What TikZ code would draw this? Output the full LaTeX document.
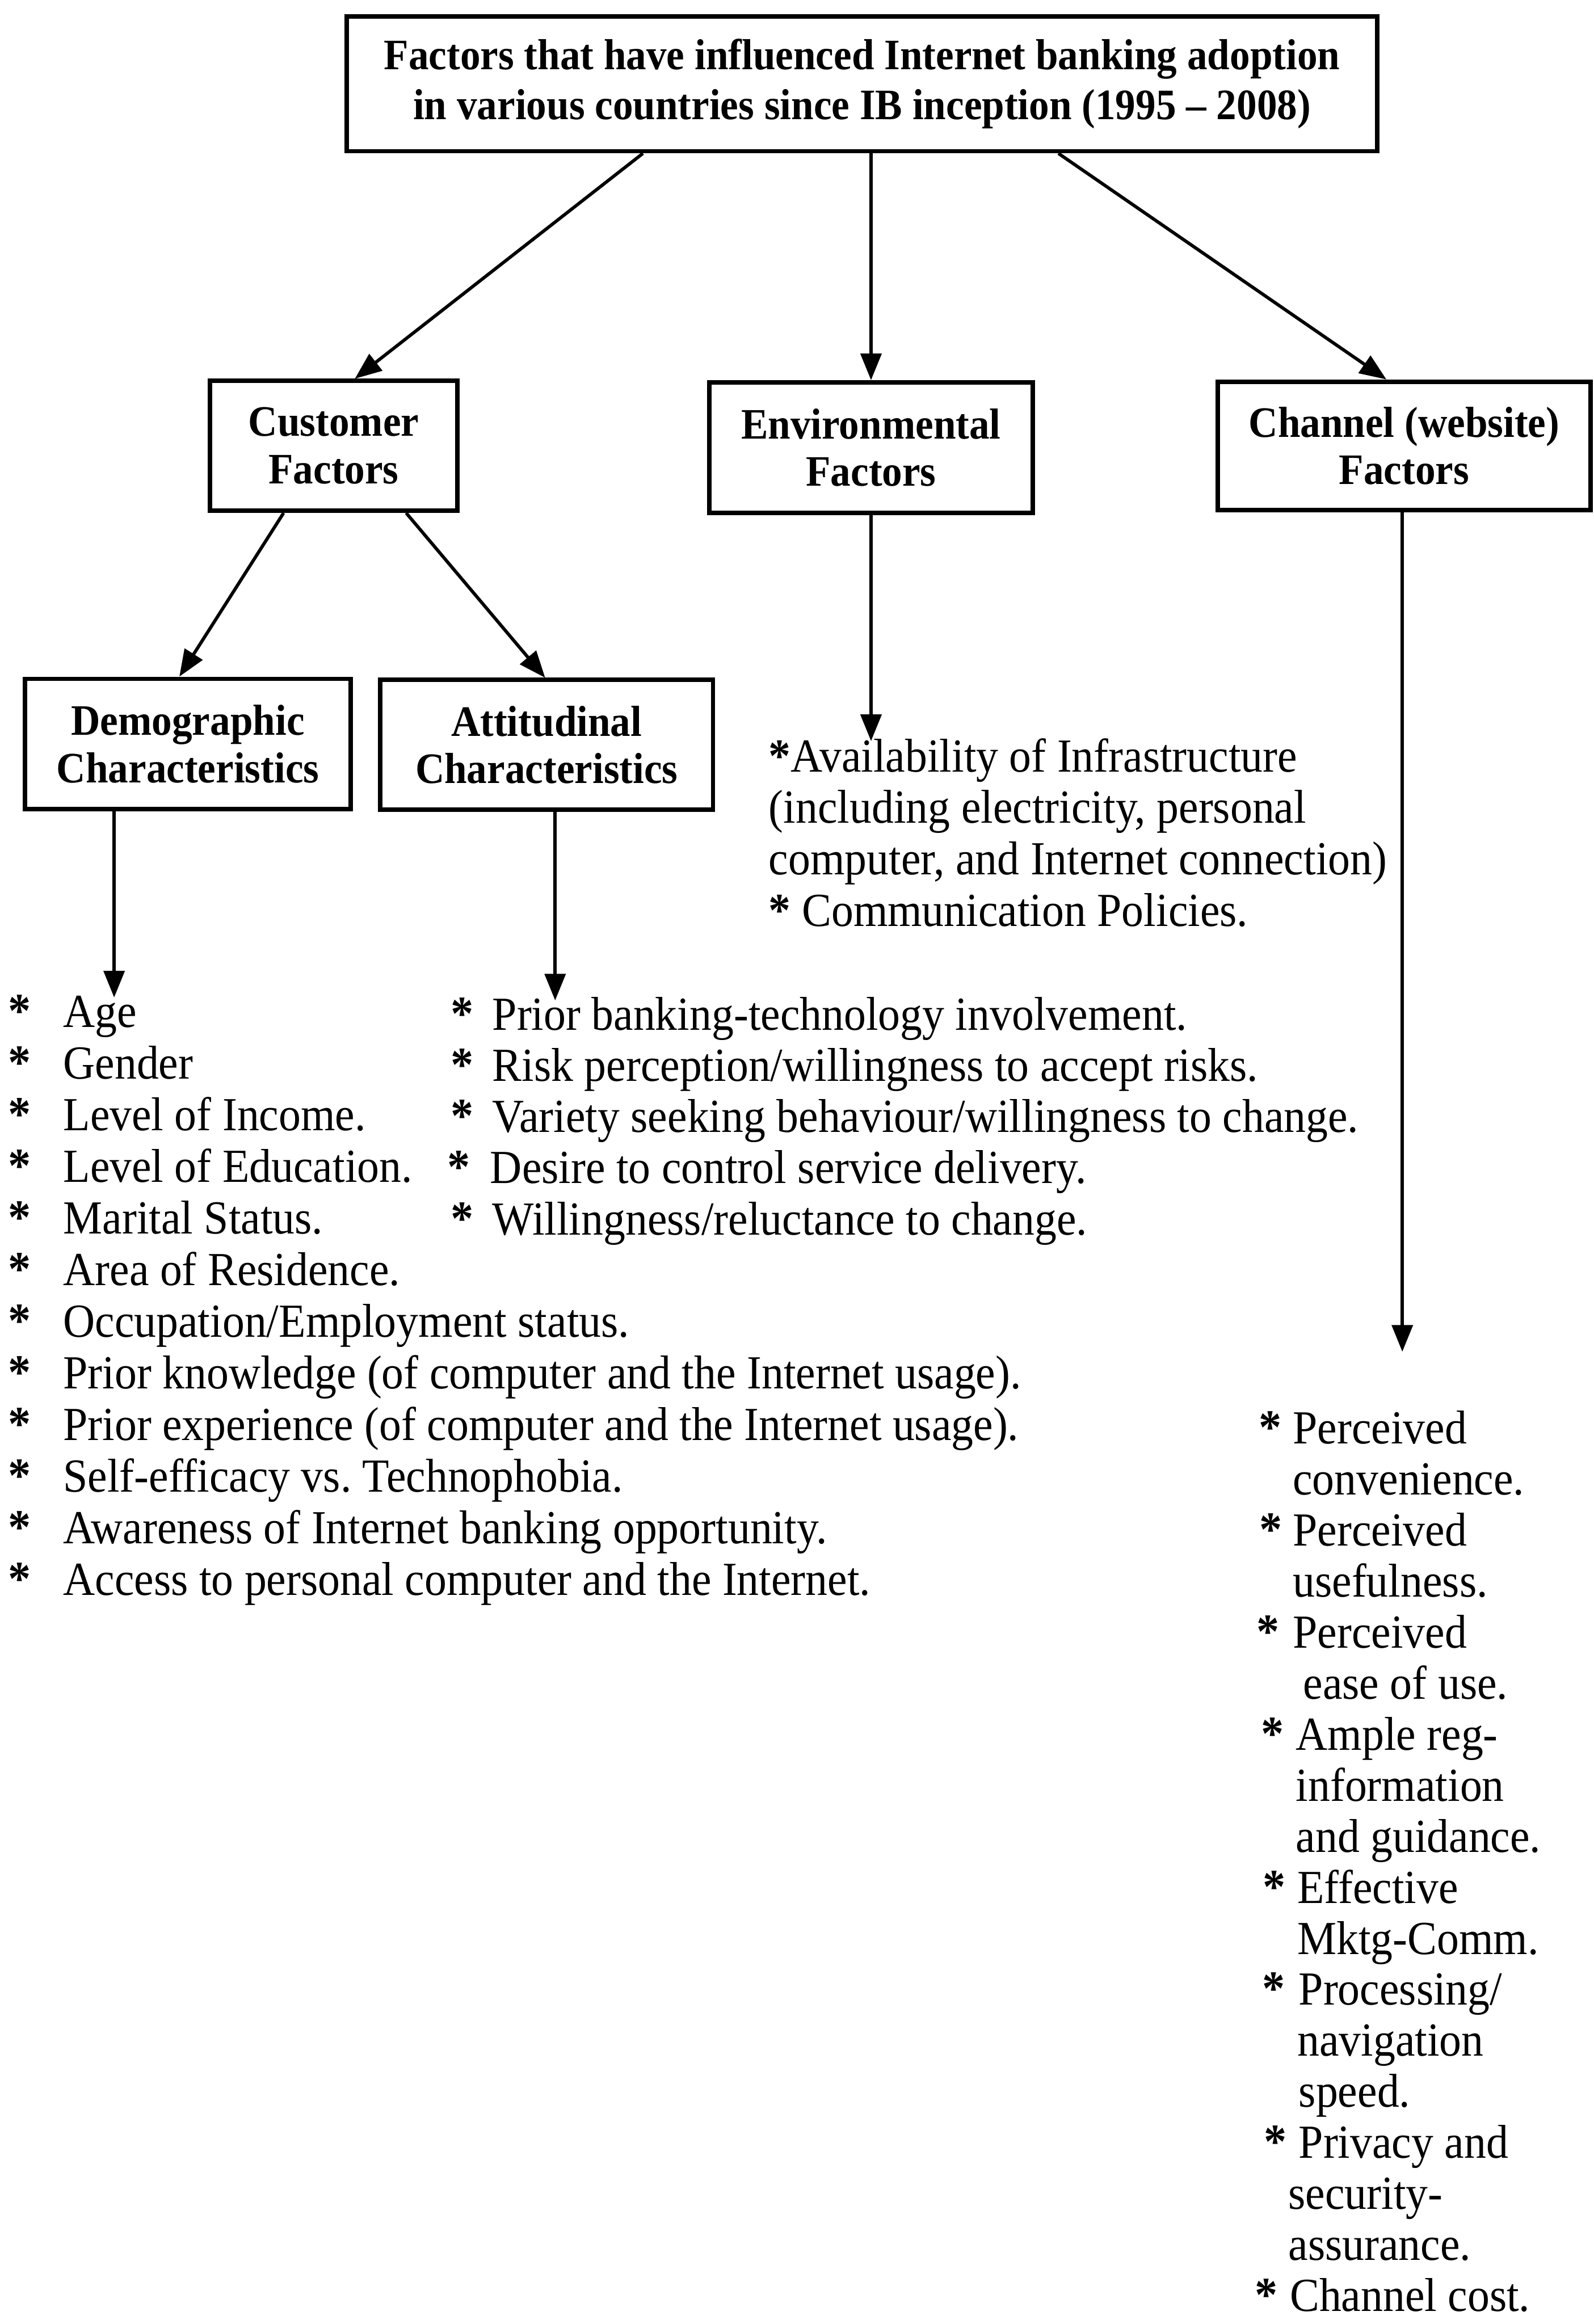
\documentclass[tikz,border=0pt]{standalone}
\usepackage{fontspec}
\setmainfont[FakeStretch=0.93]{Liberation Serif}
\usetikzlibrary{arrows.meta}
\frenchspacing

\begin{document}
\begin{tikzpicture}[x=1pt, y=-1pt,
  factorbox/.style={draw, line width=3pt, inner sep=0pt, align=center,
    font=\fontsize{29.3}{32}\selectfont\bfseries},
  link/.style={line width=2.2pt, -{Triangle[length=18pt,width=14pt]}},
  listtext/.style={anchor=base west, inner sep=0pt,
    font=\fontsize{32}{34.85}\selectfont},
  starcol/.style={anchor=base west, inner sep=0pt,
    font=\fontsize{33}{34.85}\selectfont\bfseries},
]
\useasboundingbox (0,0) rectangle (1075,1568);

% ---- boxes ----
\node[factorbox, minimum width=695pt, minimum height=91pt,
      font=\fontsize{29.3}{33.6}\selectfont\bfseries] (top) at (581.5,56.5)
  {Factors that have influenced Internet banking adoption\\in various countries since IB inception (1995 -- 2008)};
\node[factorbox, minimum width=167pt, minimum height=87.6pt] (cust) at (225.1,300.8) {Customer\\Factors};
\node[factorbox, minimum width=218pt, minimum height=88pt] (env) at (587.6,302) {Environmental\\Factors};
\node[factorbox, minimum width=251.5pt, minimum height=86.5pt] (chan) at (947.25,300.75) {Channel (website)\\Factors};
\node[factorbox, minimum width=219.5pt, minimum height=88pt] (demo) at (126.75,502) {Demographic\\Characteristics};
\node[factorbox, minimum width=224.5pt, minimum height=87.5pt] (att) at (368.75,502.5) {Attitudinal\\Characteristics};

% ---- connectors between boxes ----
\draw[link] ([xshift=-147.8pt]top.south) -- ([xshift=14.3pt]cust.north);
\draw[link] (top.south -| env.north) -- (env.north);
\draw[link] ([xshift=132.5pt]top.south) -- ([xshift=-12pt]chan.north);
\draw[link] ([xshift=-33.8pt]cust.south) -- ([xshift=-5.75pt]demo.north);
\draw[link] ([xshift=48.9pt]cust.south) -- ([xshift=-1pt]att.north);

% ---- arrow ends above the lists ----
\coordinate (demotip) at (77,673);
\coordinate (atttip) at (374.5,675);
\coordinate (envtip) at (587.6,500);
\coordinate (chantip) at (946,912);
\draw[link] (demo.south -| demotip) -- (demotip);
\draw[link] (att.south -| atttip) -- (atttip);
\draw[link] (env.south) -- (envtip);
\draw[link] (chan.south -| chantip) -- (chantip);

% ---- environmental factors ----
\node[listtext, font=\fontsize{32}{34.75}\selectfont] (envlist) at (518.5,520.7)
  {\parbox[t]{450pt}{\raggedright
   {\bfseries*}Availability of Infrastructure\par
   (including electricity, personal\par
   computer, and Internet connection)\par
   {\bfseries*} Communication Policies.}};

% ---- demographic characteristics ----
\node[starcol] (demostars) at (5.2,693)
  {\parbox[t]{20pt}{\raggedright *\par*\par*\par*\par*\par*\par*\par*\par*\par*\par*\par*}};
\node[listtext] (demolist) at (42.5,693)
  {\parbox[t]{720pt}{\raggedright
   Age\par
   Gender\par
   Level of Income.\par
   Level of Education.\par
   Marital Status.\par
   Area of Residence.\par
   Occupation/Employment status.\par
   Prior knowledge (of computer and the Internet usage).\par
   Prior experience (of computer and the Internet usage).\par
   Self-efficacy vs. Technophobia.\par
   Awareness of Internet banking opportunity.\par
   Access to personal computer and the Internet.}};

% ---- attitudinal characteristics ----
\node[starcol, font=\fontsize{33}{34.5}\selectfont\bfseries] (attstars) at (303.8,695)
  {\parbox[t]{20pt}{\raggedright *\par*\par*\par\hspace*{-2pt}*\par*}};
\node[listtext, font=\fontsize{32}{34.5}\selectfont] (attlist) at (332,695)
  {\parbox[t]{640pt}{\raggedright
   Prior banking-technology involvement.\par
   Risk perception/willingness to accept risks.\par
   Variety seeking behaviour/willingness to change.\par
   \hspace*{-1.5pt}Desire to control service delivery.\par
   Willingness/reluctance to change.}};

% ---- channel (website) factors ----
\node[starcol, font=\fontsize{33}{34.44}\selectfont\bfseries] (chanstars) at (847.6,974)
  {\parbox[t]{30pt}{\raggedright
   \hspace*{1.3pt}*\par\mbox{}\par
   \hspace*{1.8pt}*\par\mbox{}\par
   \hspace*{-0.2pt}*\par\mbox{}\par
   \hspace*{2.8pt}*\par\mbox{}\par\mbox{}\par
   \hspace*{4.3pt}*\par\mbox{}\par
   \hspace*{3.8pt}*\par\mbox{}\par\mbox{}\par
   \hspace*{4.8pt}*\par\mbox{}\par\mbox{}\par
   \hspace*{-1.2pt}*}};
\node[listtext, font=\fontsize{32}{34.44}\selectfont] (chanlist) at (872,974)
  {\parbox[t]{220pt}{\raggedright
   Perceived\par
   convenience.\par
   Perceived\par
   usefulness.\par
   Perceived\par
   \hspace*{7pt}ease of use.\par
   \hspace*{2pt}Ample reg-\par
   \hspace*{2pt}information\par
   \hspace*{2pt}and guidance.\par
   \hspace*{3pt}Effective\par
   \hspace*{3pt}Mktg-Comm.\par
   \hspace*{4pt}Processing/\par
   \hspace*{3pt}navigation\par
   \hspace*{4pt}speed.\par
   \hspace*{4pt}Privacy and\par
   \hspace*{-3pt}security-\par
   \hspace*{-3pt}assurance.\par
   \hspace*{-2pt}Channel cost.}};
\end{tikzpicture}
\end{document}
